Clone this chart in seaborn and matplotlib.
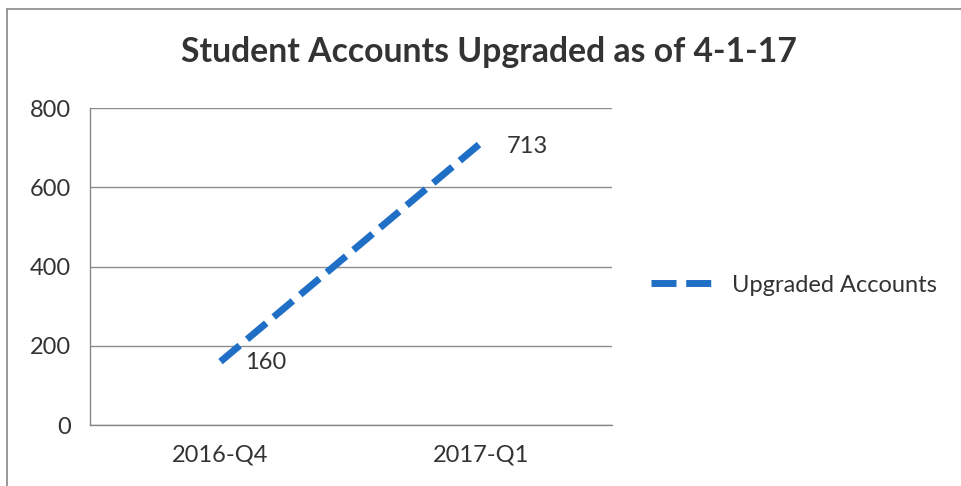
import pandas as pd
import matplotlib
matplotlib.use("Agg")
import matplotlib.pyplot as plt
from matplotlib.lines import Line2D
import seaborn as sns

# Data
quarters = ["2016-Q4", "2017-Q1"]
upgraded = [160, 713]
y_ticks = [0, 200, 400, 600, 800]

df = pd.DataFrame({"Quarter": quarters, "Upgraded Accounts": upgraded})

sns.set_style("white")
plt.rcParams['font.family'] = ['Lato', 'DejaVu Sans']

fig = plt.figure(figsize=(9.62, 4.86), dpi=100)
ax = fig.add_axes([90 / 962, 1 - 425 / 486, (612 - 90) / 962, (425 - 108) / 486])

line_color = '#1f6fc6'
sns.lineplot(data=df, x="Quarter", y="Upgraded Accounts", ax=ax, color=line_color,
             linewidth=5, linestyle=(0, (3.6, 1.4)), label="Upgraded Accounts", sort=False)

ax.set_xlim(-0.5, 1.5)
ax.set_ylim(0, 800)
ax.set_yticks(y_ticks)
ax.set_xticks([-0.5, 0.5, 1.5], minor=False)
ax.set_xticks([0, 1], minor=True)
ax.set_xticklabels(["", "", ""])
ax.set_xticklabels(quarters, minor=True)
ax.tick_params(axis='x', which='minor', length=0, labelsize=17, colors='#333333', pad=14)
ax.tick_params(axis='x', which='major', length=6, width=1, color='#888888', direction='out')
ax.tick_params(axis='y', length=6, width=1, color='#888888', direction='out', labelsize=17,
               labelcolor='#333333', pad=8)
ax.grid(axis='y', color='#8c8c8c', linewidth=1)
ax.set_axisbelow(True)
for side in ['top', 'right']:
    ax.spines[side].set_visible(False)
for side in ['left', 'bottom']:
    ax.spines[side].set_color('#888888')
    ax.spines[side].set_linewidth(1)
ax.set_xlabel("")
ax.set_ylabel("")

# data labels
ax.annotate(str(upgraded[0]), (0, upgraded[0]), xytext=(18, -1), textcoords='offset points',
            fontsize=17, color='#333333', va='center', ha='left')
ax.annotate(str(upgraded[1]), (1, upgraded[1]), xytext=(18, -3), textcoords='offset points',
            fontsize=17, color='#333333', va='center', ha='left')

ax.legend(loc='center left', bbox_to_anchor=(630 / 962, 1 - 285 / 486),
          bbox_transform=fig.transFigure, frameon=False, fontsize=17,
          handlelength=2.8, handletextpad=0.6, labelcolor='#333333')

fig.suptitle("Student Accounts Upgraded as of 4-1-17", x=489 / 962, y=1 - 52 / 486,
             va='center', fontsize=24.3, fontweight='bold', color='#333333')

# chart border (left and top edges only)
fig.add_artist(Line2D([7 / 962, 7 / 962], [0, 1 - 9 / 486], transform=fig.transFigure,
                      color='#888888', linewidth=1.2))
fig.add_artist(Line2D([7 / 962, 1], [1 - 9 / 486, 1 - 9 / 486], transform=fig.transFigure,
                      color='#888888', linewidth=1.2))

fig.savefig("out.png", dpi=100)
